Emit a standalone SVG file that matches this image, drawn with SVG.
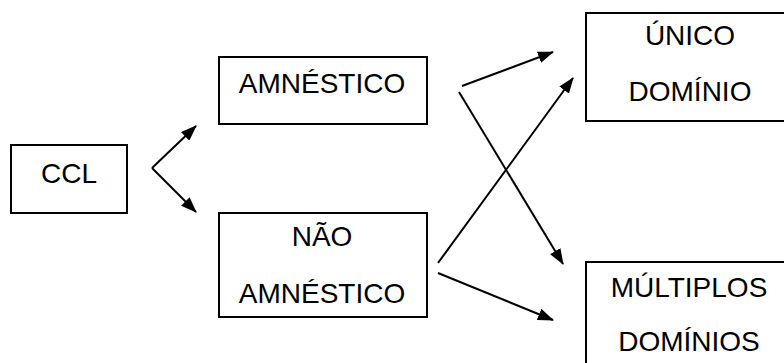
<svg xmlns="http://www.w3.org/2000/svg" width="784" height="363" viewBox="0 0 784 363">
  <style>
    .box { fill: #fff; stroke: #000; stroke-width: 2; }
    .lbl { font-family: "Liberation Sans", Arial, sans-serif; font-size: 28px; fill: #000; text-anchor: middle; }
    .con { fill: none; stroke: #000; stroke-width: 2; marker-end: url(#head); }
  </style>
  <defs>
    <marker id="head" viewBox="0 0 16 12" refX="15" refY="6" markerWidth="16" markerHeight="12" markerUnits="userSpaceOnUse" orient="auto">
      <path d="M0,0 L16,6 L0,12 Z" fill="#000"/>
    </marker>
  </defs>
  <rect width="784" height="363" fill="#fff"/>

  <g id="ccl">
    <rect class="box" x="11" y="145" width="116" height="68"/>
    <text class="lbl" x="69" y="183">CCL</text>
  </g>
  <g id="amnestico">
    <rect class="box" x="219" y="57" width="208" height="67"/>
    <text class="lbl" x="322" y="93">AMNÉSTICO</text>
  </g>
  <g id="nao-amnestico">
    <rect class="box" x="219" y="213" width="208" height="104"/>
    <text class="lbl" x="322" y="246">NÃO</text>
    <text class="lbl" x="322" y="303">AMNÉSTICO</text>
  </g>
  <g id="unico-dominio">
    <rect class="box" x="586" y="13" width="210" height="108"/>
    <text class="lbl" x="690" y="45">ÚNICO</text>
    <text class="lbl" x="690" y="101">DOMÍNIO</text>
  </g>
  <g id="multiplos-dominios">
    <rect class="box" x="586" y="262" width="210" height="110"/>
    <text class="lbl" x="689" y="297">MÚLTIPLOS</text>
    <text class="lbl" x="689" y="351">DOMÍNIOS</text>
  </g>

  <g id="connectors">
    <line class="con" x1="152" y1="168" x2="196" y2="126"/>
    <line class="con" x1="152" y1="168" x2="196" y2="212"/>
    <line class="con" x1="462" y1="86" x2="553" y2="52"/>
    <line class="con" x1="459" y1="92" x2="563" y2="264"/>
    <line class="con" x1="438" y1="263" x2="573" y2="78"/>
    <line class="con" x1="438" y1="273" x2="553" y2="320"/>
  </g>
</svg>
